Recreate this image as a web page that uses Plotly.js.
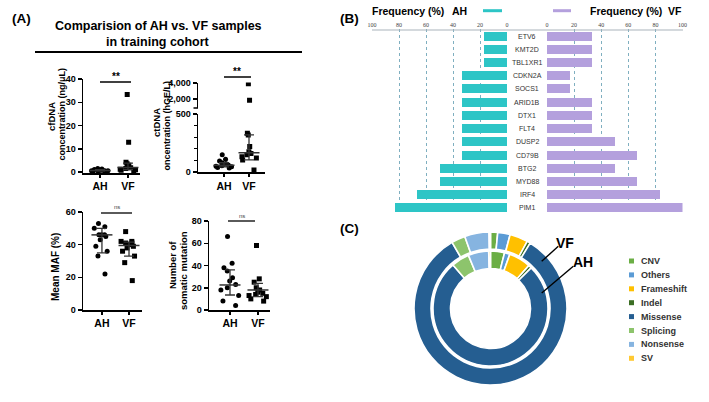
<!DOCTYPE html>
<html><head><meta charset="utf-8">
<script src="https://cdn.plot.ly/plotly-3.0.1.min.js"></script>
<style>html,body{margin:0;padding:0;background:#fff}#c{width:709px;height:402px}</style>
</head><body><div id="c"></div>
<script>
// ---------- data ----------
const groups = ['AH','VF'];
// cfDNA concentration (ng/uL)
const cfAH = [1.5,1.3,1.1,0.9,0.8,0.7,0.6,0.6,0.5,0.5,0.4,0.3];
const cfVF = [33.3,12.8,4.2,3.6,2.9,2.2,1.8,1.5,1.2,1.0,0.8,0.5];
const cfMed = [0.65,1.9], cfQ1 = [0.5,1.0], cfQ3 = [1.0,3.8];
// ctDNA concentration (hGE/L)
const ctAH = [150,110,95,80,72,65,60,55,50,45,40,35];
const ctVF = [3900,1850,335,320,220,175,160,148,132,120,103,17];
const ctMed = [58,166], ctQ1 = [45,105], ctQ3 = [80,320];
// Mean MAF (%)
const mafAH = [53,51,50,46,46,46,45,43,39,36,33,22];
const mafVF = [48,42,42,41,41,40,39,38,36,33,29,18];
const mafMed = [46,39.5], mafQ1 = [35,33], mafQ3 = [50,41.5];
// Number of somatic mutation
const smAH = [66,42,38,35,29,26,23,20,18,13,8,4];
const smVF = [58,28,25,20,18,16,15,14,13,12,10,8];
const smMed = [22.5,18], smQ1 = [13.5,12], smQ3 = [36,24];
// Panel B gene frequencies (%)
const genes = ['ETV6','KMT2D','TBL1XR1','CDKN2A','SOCS1','ARID1B','DTX1','FLT4','DUSP2','CD79B','BTG2','MYD88','IRF4','PIM1'];
const freqAH = [16.7,16.7,16.7,33.3,33.3,33.3,33.3,33.3,33.3,33.3,50,50,66.7,83.3];
const freqVF = [33.3,33.3,33.3,16.7,16.7,33.3,33.3,33.3,50,66.7,50,66.7,83.3,100];
const freqTicks = [0,20,40,60,80,100];
// Panel C mutation types (%)
const mutTypes = ['CNV','Others','Frameshift','Indel','Missense','Splicing','Nonsense','SV'];
const mutVF = [1.5,2.6,3.8,0.7,82.2,2.9,5.1,0.3];
const mutAH = [3.9,1.5,6.1,0.9,75.5,5.0,5.7,0.5];
const mutColors = ['#6BAE45','#5B9BD5','#FFC000','#3B6E24','#255E91','#8DC46C','#86B4E0','#FFC933'];

// ---------- helpers ----------
const W=709,H=402;
const px = v => v/W, py = v => 1 - v/H;
const FONT = 'Liberation Sans, Arial, sans-serif';
const BOLD = 700;

function dots(vals, g, xa, ya, sym){
  return {type:'box', y:vals, x0:g, xaxis:xa, yaxis:ya, boxpoints:'all', jitter:1, pointpos:0,
    width:0.8, line:{width:0}, fillcolor:'rgba(0,0,0,0)', hoverinfo:'y',
    marker:{color:'#000', size:5, symbol:sym}};
}
function summary(med,q1,q3,xa,ya){
  return {type:'scatter', mode:'markers', x:groups, y:med, xaxis:xa, yaxis:ya, hoverinfo:'y',
    marker:{symbol:'line-ew', size:15, color:'#333', line:{width:1.5,color:'#333'}},
    error_y:{type:'data', symmetric:false, array:q3.map((v,i)=>v-med[i]), arrayminus:med.map((v,i)=>v-q1[i]),
      width:5, thickness:1.3, color:'#333'}};
}
const traces = [];
function addScatterPanel(a, b, med, q1, q3, xa, ya){
  traces.push(dots(a,'AH',xa,ya,'circle'));
  traces.push(dots(b,'VF',xa,ya,'square'));
  traces.push(summary(med,q1,q3,xa,ya));
}
addScatterPanel(cfAH,cfVF,cfMed,cfQ1,cfQ3,'x','y');
addScatterPanel(ctAH,ctVF,ctMed,ctQ1,ctQ3,'x2','y2');
traces.push(dots(ctVF,'VF','x2','y3','square'));
addScatterPanel(mafAH,mafVF,mafMed,mafQ1,mafQ3,'x3','y4');
addScatterPanel(smAH,smVF,smMed,smQ1,smQ3,'x4','y5');

// Panel B bars
traces.push({type:'bar', orientation:'h', x:freqAH, y:genes, xaxis:'x5', yaxis:'y6', width:0.68,
  marker:{color:'#2DC5C6'}, hoverinfo:'x+y'});
traces.push({type:'bar', orientation:'h', x:freqVF, y:genes, xaxis:'x6', yaxis:'y6', width:0.68,
  marker:{color:'#B4A0DD'}, hoverinfo:'x+y'});

// Panel C donut
const cx=490.5, cy=308.5, rOut=76.5, rIn=57.5;
traces.push({type:'pie', labels:mutTypes, values:mutVF, sort:false, direction:'clockwise', rotation:0,
  hole:59.5/rOut, textinfo:'none', hoverinfo:'label+percent',
  marker:{colors:mutColors, line:{color:'#fff', width:1.6}},
  domain:{x:[px(cx-rOut),px(cx+rOut)], y:[py(cy+rOut),py(cy-rOut)]}});
traces.push({type:'pie', labels:mutTypes, values:mutAH, sort:false, direction:'clockwise', rotation:0,
  hole:40/rIn, textinfo:'none', hoverinfo:'label+percent',
  marker:{colors:mutColors, line:{color:'#fff', width:1.6}},
  domain:{x:[px(cx-rIn),px(cx+rIn)], y:[py(cy+rIn),py(cy-rIn)]}});

// ---------- axes ----------
function catX(d0,d1,r,anchor){
  return {domain:[px(d0),px(d1)], range:r, type:'category', categoryarray:groups, anchor:anchor,
    showline:true, linewidth:1.5, linecolor:'#000', ticks:'outside', ticklen:3, tickwidth:1.5, tickcolor:'#000',
    tickfont:{family:FONT,size:10.5,weight:BOLD,color:'#000'}, showgrid:false, zeroline:false, fixedrange:true};
}
function valY(b,t,r,tv,anchor,extra){
  return Object.assign({domain:[py(b),py(t)], range:r, tickvals:tv, anchor:anchor,
    showline:true, linewidth:1.5, linecolor:'#000', ticks:'outside', ticklen:4, tickwidth:1.5, tickcolor:'#000',
    tickfont:{family:FONT,size:9,weight:BOLD,color:'#000'}, showgrid:false, zeroline:false, fixedrange:true}, extra||{});
}
function freqX(d0,d1,r){
  return {domain:[px(d0),px(d1)], range:r, side:'top', anchor:'y6', tickvals:freqTicks,
    tickfont:{family:'Liberation Serif, serif',size:6,color:'#444'}, ticks:'', showline:false,
    showgrid:false, zeroline:false, fixedrange:true,
    minor:{tickmode:'array', tickvals:[20,40,60,80,100], showgrid:true, gridcolor:'#7FAFC0', griddash:'dot', gridwidth:1, ticks:''}};
}

const layout = {
  width:W, height:H, margin:{l:0,r:0,t:0,b:0}, paper_bgcolor:'#fff', plot_bgcolor:'rgba(0,0,0,0)',
  showlegend:false, font:{family:FONT,color:'#000'}, boxmode:'overlay', bargap:0,
  xaxis: catX(83,140,[-0.607,1.43],'y'),
  yaxis: valY(173.2,79,[-0.5,40],[0,10,20,30,40],'x'),
  xaxis2: catX(198,265,[-1.04,1.64],'y2'),
  yaxis2: valY(172.4,114,[-3,500],[0,500],'x2',
    {minor:{tickmode:'array', tickvals:[100,200,300,400], ticks:'outside', ticklen:2.5, tickwidth:1, tickcolor:'#000'}}),
  yaxis3: valY(108,82.5,[875,4062],[2000,4000],'x2',{ticktext:['2,000','4,000']}),
  xaxis3: catX(83,142,[-0.70,1.48],'y4'),
  yaxis4: valY(310,212,[0,60],[0,20,40,60],'x3'),
  xaxis4: catX(209,270,[-0.75,1.43],'y5'),
  yaxis5: valY(310,221,[0,80],[0,20,40,60,80],'x4'),
  xaxis5: freqX(372,507,[100,0]),
  xaxis6: freqX(547,682.5,[0,100]),
  yaxis6: {domain:[py(214.6),py(29.4)], type:'category', categoryarray:genes, range:[genes.length-0.5,-0.5],
    anchor:'x5', visible:false, fixedrange:true},
  shapes:[], annotations:[]
};

const S = layout.shapes, A = layout.annotations;
function pline(x0,y0,x1,y1,color,w){ S.push({type:'line',xref:'paper',yref:'paper',x0:px(x0),y0:py(y0),x1:px(x1),y1:py(y1),line:{color:color||'#000',width:w||1.5}}); }
function ptext(x,y,t,size,opt){ A.push(Object.assign({xref:'paper',yref:'paper',x:px(x),y:py(y),text:t,showarrow:false,
  font:{family:FONT,size:size,color:'#000',weight:BOLD},xanchor:'center',yanchor:'middle'},opt||{})); }

// Panel A texts
ptext(21,19,'(A)',13.5);
ptext(158,26,'Comparision of AH vs. VF samples',12.5);
ptext(158,42,'in training cohort',12.5);
pline(35,52,302,52,'#000',2);
// y titles
ptext(51,117,'cfDNA',9.5,{textangle:-90});
ptext(61.5,114,'concentration (ng/μL)',9,{textangle:-90});
ptext(156,123,'ctDNA',9.5,{textangle:-90});
ptext(166.5,126,'oncentration (hGE/L)',9,{textangle:-90});
ptext(55,267,'Mean MAF (%)',10,{textangle:-90});
ptext(172,265,'Number of',9.5,{textangle:-90});
ptext(183,271,'somatic mutation',9.5,{textangle:-90});
// significance
pline(100,82,131,82); ptext(115.5,77,'**',10);
pline(224,77,251,77); ptext(237.5,72,'**',10);
pline(101,213,132,213,'#000',1.3); ptext(116.5,207.5,'ns',6,{font:{family:FONT,size:6,color:'#444'}});
pline(228,221,255,221,'#000',1.3); ptext(241.5,215.5,'ns',6,{font:{family:FONT,size:6,color:'#444'}});
// broken axis marker
pline(193.5,108,198,108,'#000',1.5);

// Panel B header
ptext(349,18.5,'(B)',13.5);
ptext(370,11,'Frequency (%)',10.5,{xanchor:'left'});
ptext(459.5,11,'AH',10.5);
pline(483,10.7,502,10.7,'#2DC5C6',3);
pline(553,10.7,571,10.7,'#B4A0DD',3);
ptext(588,11,'Frequency (%)',10.5,{xanchor:'left'});
ptext(675,11,'VF',10.5);
pline(372,30,683,30,'#A9B4BC',1.2);
genes.forEach(g=>A.push({xref:'paper',yref:'y6',x:px(527),y:g,text:g,showarrow:false,
  font:{family:FONT,size:7,color:'#333'},xanchor:'center',yanchor:'middle'}));

// Panel C
ptext(349,228,'(C)',13.5);
ptext(565,243,'VF',14);
ptext(583,262,'AH',14);
pline(541.7,261.3,558.3,246.3,'#000',1.4);
pline(541.7,293,573.3,266.3,'#000',1.4);
const legY0 = 261, legDy = 13.9;
mutTypes.forEach((m,i)=>{
  const yy = legY0 + i*legDy;
  S.push({type:'rect',xref:'paper',yref:'paper',x0:px(629),x1:px(634),y0:py(yy+2.5),y1:py(yy-2.5),
    fillcolor:mutColors[i],line:{width:0}});
  ptext(639,yy,m,9,{xanchor:'left',font:{family:FONT,size:9,color:'#333',weight:BOLD}});
});

Plotly.newPlot('c', traces, layout, {displayModeBar:false, staticPlot:true});
</script></body></html>
